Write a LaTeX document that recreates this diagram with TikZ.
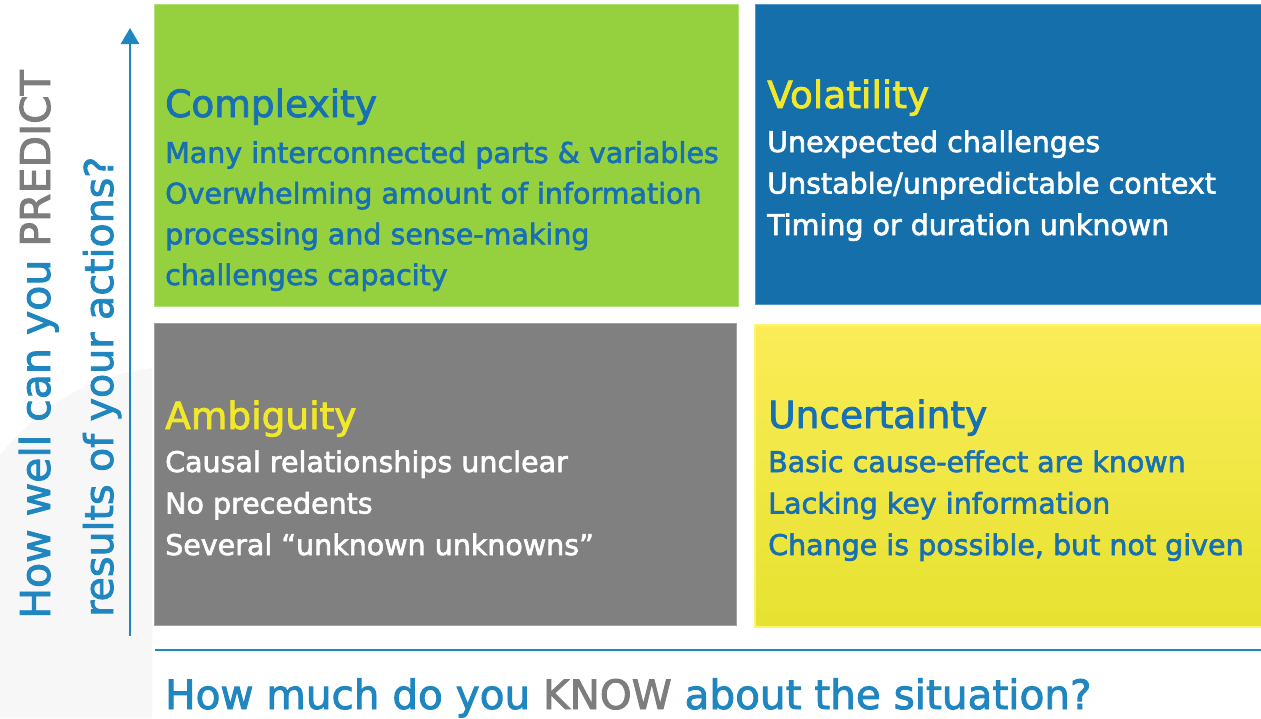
\documentclass[tikz,border=0pt]{standalone}
\usepackage{fontspec}
\setmainfont{DejaVu Sans}[FakeBold=2.2]
\usetikzlibrary{arrows.meta}
\definecolor{cgreen}{RGB}{149,209,62}
\definecolor{cgreenedge}{RGB}{178,224,120}
\definecolor{cblue}{RGB}{21,111,170}
\definecolor{cblueedge}{RGB}{80,150,200}
\definecolor{cgray}{RGB}{128,128,128}
\definecolor{cgrayedge}{RGB}{160,160,160}
\definecolor{ytop}{RGB}{251,236,88}
\definecolor{ymid}{RGB}{252,241,52}
\definecolor{ybot}{RGB}{230,226,48}
\definecolor{yedge}{RGB}{250,246,110}
\definecolor{txtblue}{RGB}{24,112,180}
\definecolor{axisblue}{RGB}{31,134,192}
\definecolor{titleyellow}{RGB}{242,232,42}
\definecolor{labgray}{RGB}{125,125,125}
\definecolor{wm}{RGB}{247,247,247}
\begin{document}
\begin{tikzpicture}[x=1pt,y=-1pt,
  quad/.style={anchor=north west, inner sep=0pt, outer sep=0pt, line width=1pt},
  ttl/.style={anchor=base west, inner sep=0pt, font=\fontsize{37.5}{45}\selectfont},
  body/.style={anchor=base west, inner sep=0pt, align=left, font=\fontsize{28.5}{41.5}\selectfont},
  axislab/.style={anchor=base west, inner sep=0pt, text=axisblue},
  axisline/.style={draw=axisblue, line width=2.8pt}
]
\useasboundingbox (0,0) rectangle (1261,718);
\fill[white] (0,0) rectangle (1261,718);
% faint watermark
\fill[wm] (0,455) .. controls (50,395) and (100,375) .. (152,368) -- (152,718) -- (0,718) -- cycle;

% quadrants
\node[quad, fill=cgreen, draw=cgreenedge, minimum width=584pt, minimum height=302pt] (cbox) at (154,4) {};
\node[quad, fill=cblue, draw=cblueedge, minimum width=507pt, minimum height=300pt] (vbox) at (755,4) {};
\node[quad, fill=cgray, draw=cgrayedge, minimum width=582pt, minimum height=302pt] (abox) at (154,323) {};
\node[quad, top color=ytop, middle color=ymid, bottom color=ybot, draw=yedge, line width=2pt, minimum width=507pt, minimum height=302pt] (ubox) at (755,325) {};

% Complexity (body anchored at the baseline of its last line)
\node[ttl, text=txtblue] (ct) at (165,117) {Complexity};
\node[body, text=txtblue, font=\fontsize{28.5}{40.7}\selectfont] (cb) at (165,285) {Many interconnected parts \& variables\\Overwhelming amount of information\\processing and sense-making\\challenges capacity};

% Volatility
\node[ttl, text=titleyellow] (vt) at (767,108) {Volatility};
\node[body, text=white] (vb) at (767,235) {Unexpected challenges\\Unstable/unpredictable context\\Timing or duration unknown};

% Ambiguity
\node[ttl, text=titleyellow] (at) at (165,429) {Ambiguity};
\node[body, text=white] (ab) at (165,555) {Causal relationships unclear\\No precedents\\Several “unknown unknowns”};

% Uncertainty
\node[ttl, text=txtblue] (ut) at (768,428) {Uncertainty};
\node[body, text=txtblue] (ub) at (768,555) {Basic cause-effect are known\\Lacking key information\\Change is possible, but not given};

% axes
\coordinate (ybot) at (130,636);
\coordinate (ytopc) at (130,28);
\draw[axisline, -{Triangle[width=18pt,length=16pt]}] (ybot) -- (ytopc);
\coordinate (xl) at (155,650);
\coordinate (xr) at (1261,650);
\draw[axisline] (xl) -- (xr);

% axis labels
\node[axislab, rotate=90, font=\fontsize{41}{45}\selectfont] (yl1) at (50,619) {How well can you \textcolor{labgray}{PREDICT}};
\node[axislab, rotate=90, font=\fontsize{39.5}{45}\selectfont] (yl2) at (113,617) {results of your actions?};
\node[axislab, font=\fontsize{40.5}{45}\selectfont] (xlab) at (165,709) {How much do you \textcolor{labgray}{KNOW} about the situation?};
\end{tikzpicture}
\end{document}
